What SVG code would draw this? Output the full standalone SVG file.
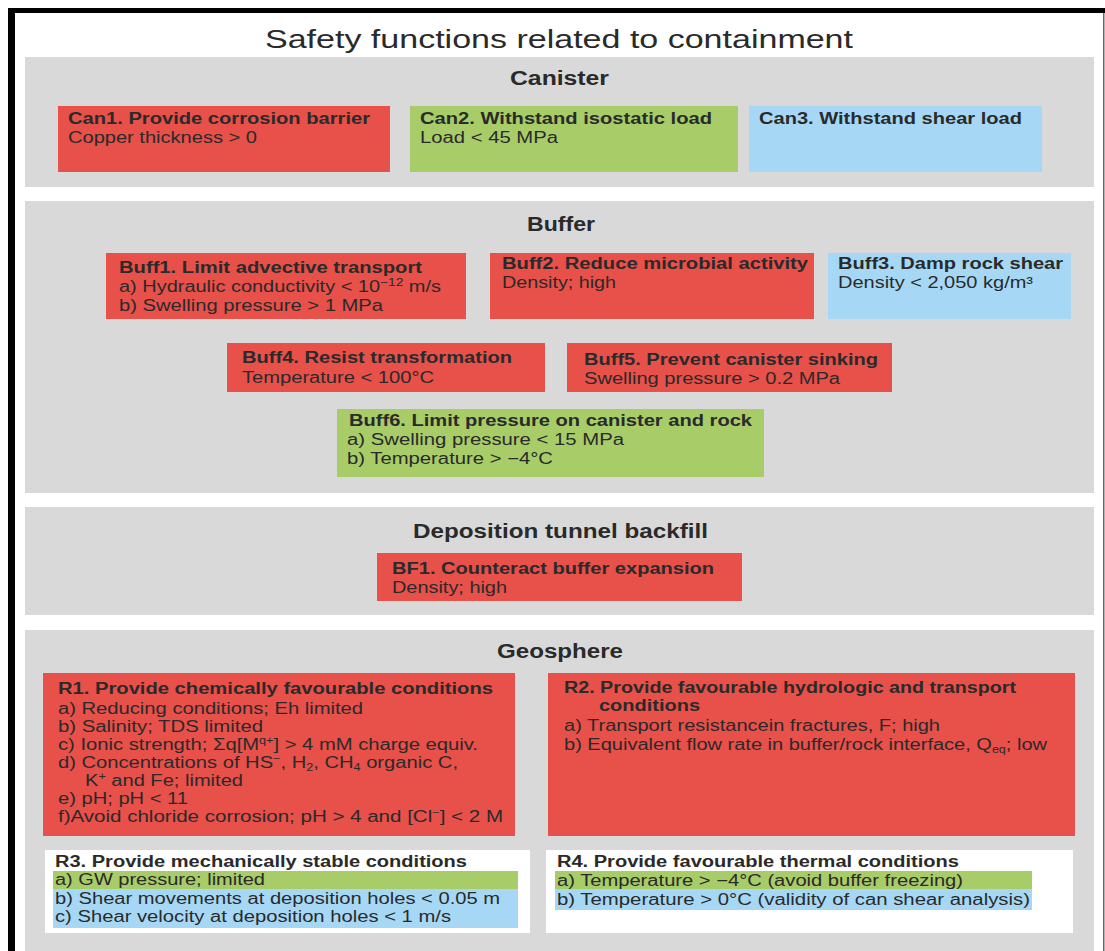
<svg xmlns="http://www.w3.org/2000/svg" width="1105" height="951" viewBox="0 0 1105 951">
<style>
text{font-family:"Liberation Sans",Arial,sans-serif;fill:#2a2a2a;font-size:16px}
.b{font-weight:bold}
.sec{font-size:20px;font-weight:bold}
.ttl{font-size:26px}
.panel{fill:#d9d9d9}
.red{fill:#e8504a}
.green{fill:#a8cc68}
.blue{fill:#a6d8f5}
.white{fill:#ffffff}
</style>
<rect x="0" y="0" width="1105" height="951" fill="#ffffff"/>
<rect x="8" y="8" width="1097" height="5" fill="#000"/>
<rect x="8" y="8" width="7" height="943" fill="#000"/>
<rect x="1103" y="13" width="1.5" height="938" fill="#666"/>

<text class="ttl" x="265" y="48" textLength="588" lengthAdjust="spacingAndGlyphs">Safety functions related to containment</text>

<g id="canister">
<rect class="panel" x="25" y="57" width="1069" height="130"/>
<text class="sec" x="510" y="85" textLength="99" lengthAdjust="spacingAndGlyphs">Canister</text>
</g>
<g id="can1">
<rect class="red" x="58" y="106" width="332" height="66"/>
<text class="b" x="68" y="124" textLength="302" lengthAdjust="spacingAndGlyphs">Can1. Provide corrosion barrier</text>
<text x="68" y="143" textLength="189" lengthAdjust="spacingAndGlyphs">Copper thickness &gt; 0</text>
</g>
<g id="can2">
<rect class="green" x="410" y="106" width="328" height="66"/>
<text class="b" x="420" y="124" textLength="292" lengthAdjust="spacingAndGlyphs">Can2. Withstand isostatic load</text>
<text x="420" y="143" textLength="138" lengthAdjust="spacingAndGlyphs">Load &lt; 45 MPa</text>
</g>
<g id="can3">
<rect class="blue" x="749" y="106" width="293" height="66"/>
<text class="b" x="759" y="124" textLength="263" lengthAdjust="spacingAndGlyphs">Can3. Withstand shear load</text>
</g>

<g id="buffer">
<rect class="panel" x="25" y="201" width="1069" height="292"/>
<text class="sec" x="527" y="231" textLength="68" lengthAdjust="spacingAndGlyphs">Buffer</text>
</g>
<g id="buff1">
<rect class="red" x="106" y="253" width="360" height="66"/>
<text class="b" x="119" y="273" textLength="303" lengthAdjust="spacingAndGlyphs">Buff1. Limit advective transport</text>
<text x="119" y="292" textLength="322" lengthAdjust="spacingAndGlyphs">a) Hydraulic conductivity &lt; 10<tspan dy="-6" font-size="11">−12</tspan><tspan dy="6"> m/s</tspan></text>
<text x="119" y="311" textLength="264" lengthAdjust="spacingAndGlyphs">b) Swelling pressure &gt; 1 MPa</text>
</g>
<g id="buff2">
<rect class="red" x="490" y="253" width="324" height="66"/>
<text class="b" x="502" y="269" textLength="306" lengthAdjust="spacingAndGlyphs">Buff2. Reduce microbial activity</text>
<text x="502" y="288" textLength="114" lengthAdjust="spacingAndGlyphs">Density; high</text>
</g>
<g id="buff3">
<rect class="blue" x="828" y="253" width="243" height="66"/>
<text class="b" x="838" y="269" textLength="225" lengthAdjust="spacingAndGlyphs">Buff3. Damp rock shear</text>
<text x="838" y="288" textLength="195" lengthAdjust="spacingAndGlyphs">Density &lt; 2,050 kg/m³</text>
</g>
<g id="buff4">
<rect class="red" x="227" y="343" width="318" height="49"/>
<text class="b" x="242" y="363" textLength="270" lengthAdjust="spacingAndGlyphs">Buff4. Resist transformation</text>
<text x="242" y="383" textLength="192" lengthAdjust="spacingAndGlyphs">Temperature &lt; 100°C</text>
</g>
<g id="buff5">
<rect class="red" x="567" y="343" width="325" height="49"/>
<text class="b" x="584" y="365" textLength="294" lengthAdjust="spacingAndGlyphs">Buff5. Prevent canister sinking</text>
<text x="584" y="384" textLength="256" lengthAdjust="spacingAndGlyphs">Swelling pressure &gt; 0.2 MPa</text>
</g>
<g id="buff6">
<rect class="green" x="337" y="409" width="427" height="68"/>
<text class="b" x="349" y="426" textLength="403" lengthAdjust="spacingAndGlyphs">Buff6. Limit pressure on canister and rock</text>
<text x="347" y="445" textLength="277" lengthAdjust="spacingAndGlyphs">a) Swelling pressure &lt; 15 MPa</text>
<text x="347" y="464" textLength="206" lengthAdjust="spacingAndGlyphs">b) Temperature &gt; −4°C</text>
</g>

<g id="backfill">
<rect class="panel" x="25" y="507" width="1069" height="108"/>
<text class="sec" x="413" y="538" textLength="295" lengthAdjust="spacingAndGlyphs">Deposition tunnel backfill</text>
</g>
<g id="bf1">
<rect class="red" x="377" y="553" width="365" height="48"/>
<text class="b" x="392" y="574" textLength="322" lengthAdjust="spacingAndGlyphs">BF1. Counteract buffer expansion</text>
<text x="392" y="593" textLength="115" lengthAdjust="spacingAndGlyphs">Density; high</text>
</g>

<g id="geosphere">
<rect class="panel" x="25" y="630" width="1069" height="321"/>
<text class="sec" x="497" y="658" textLength="126" lengthAdjust="spacingAndGlyphs">Geosphere</text>
</g>
<g id="r1">
<rect class="red" x="43" y="673" width="472" height="163"/>
<text class="b" x="58" y="694" textLength="435" lengthAdjust="spacingAndGlyphs">R1. Provide chemically favourable conditions</text>
<text x="58" y="714" textLength="305" lengthAdjust="spacingAndGlyphs">a) Reducing conditions; Eh limited</text>
<text x="58" y="732" textLength="205" lengthAdjust="spacingAndGlyphs">b) Salinity; TDS limited</text>
<text x="58" y="750" textLength="420" lengthAdjust="spacingAndGlyphs">c) Ionic strength; Σq[M<tspan dy="-6" font-size="10">q+</tspan><tspan dy="6">] &gt; 4 mM charge equiv.</tspan></text>
<text x="58" y="768" textLength="400" lengthAdjust="spacingAndGlyphs">d) Concentrations of HS<tspan dy="-6" font-size="10">−</tspan><tspan dy="6">, H</tspan><tspan dy="3" font-size="10">2</tspan><tspan dy="-3">, CH</tspan><tspan dy="3" font-size="10">4</tspan><tspan dy="-3"> organic C,</tspan></text>
<text x="85" y="786" textLength="158" lengthAdjust="spacingAndGlyphs">K<tspan dy="-6" font-size="10">+</tspan><tspan dy="6"> and Fe; limited</tspan></text>
<text x="58" y="804" textLength="130" lengthAdjust="spacingAndGlyphs">e) pH; pH &lt; 11</text>
<text x="58" y="822" textLength="445" lengthAdjust="spacingAndGlyphs">f)Avoid chloride corrosion; pH &gt; 4 and [Cl<tspan dy="-6" font-size="10">−</tspan><tspan dy="6">] &lt; 2 M</tspan></text>
</g>
<g id="r2">
<rect class="red" x="548" y="673" width="527" height="163"/>
<text class="b" x="564" y="693" textLength="452" lengthAdjust="spacingAndGlyphs">R2. Provide favourable hydrologic and transport</text>
<text class="b" x="599" y="711" textLength="101" lengthAdjust="spacingAndGlyphs">conditions</text>
<text x="564" y="731" textLength="376" lengthAdjust="spacingAndGlyphs">a) Transport resistancein fractures, F; high</text>
<text x="564" y="750" textLength="483" lengthAdjust="spacingAndGlyphs">b) Equivalent flow rate in buffer/rock interface, Q<tspan dy="3" font-size="10">eq</tspan><tspan dy="-3">; low</tspan></text>
</g>
<g id="r3">
<rect class="white" x="45" y="850" width="485" height="83"/>
<rect class="green" x="53" y="871" width="465" height="18"/>
<rect class="blue" x="53" y="889" width="465" height="39"/>
<text class="b" x="55" y="867" textLength="412" lengthAdjust="spacingAndGlyphs">R3. Provide mechanically stable conditions</text>
<text x="55" y="885" textLength="210" lengthAdjust="spacingAndGlyphs">a) GW pressure; limited</text>
<text x="55" y="904" textLength="445" lengthAdjust="spacingAndGlyphs">b) Shear movements at deposition holes &lt; 0.05 m</text>
<text x="55" y="922" textLength="396" lengthAdjust="spacingAndGlyphs">c) Shear velocity at deposition holes &lt; 1 m/s</text>
</g>
<g id="r4">
<rect class="white" x="546" y="850" width="527" height="83"/>
<rect class="green" x="555" y="871" width="477" height="18"/>
<rect class="blue" x="555" y="889" width="477" height="21"/>
<text class="b" x="557" y="867" textLength="402" lengthAdjust="spacingAndGlyphs">R4. Provide favourable thermal conditions</text>
<text x="557" y="886" textLength="406" lengthAdjust="spacingAndGlyphs">a) Temperature &gt; −4°C (avoid buffer freezing)</text>
<text x="557" y="905" textLength="473" lengthAdjust="spacingAndGlyphs">b) Temperature &gt; 0°C (validity of can shear analysis)</text>
</g>
<g id="connectors"/>
</svg>
